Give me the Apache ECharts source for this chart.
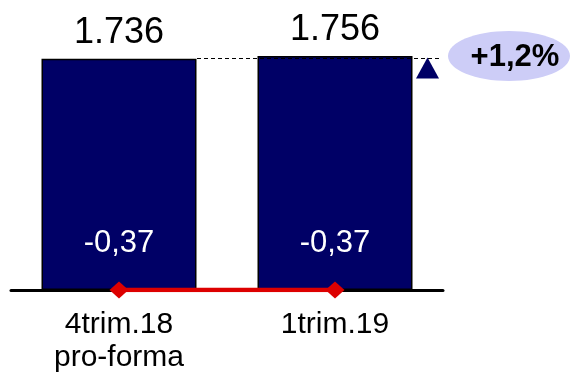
<!DOCTYPE html>
<html>
<head>
<meta charset="utf-8">
<script src="https://cdn.jsdelivr.net/npm/echarts@6/dist/echarts.min.js"></script>
<style>
  html, body { margin: 0; padding: 0; background: #fff; }
  #chart { width: 579px; height: 376px; }
</style>
</head>
<body>
<div id="chart"></div>
<script>
// Quarters compared
const categories = ['4trim.18\npro-forma', '1trim.19'];
// Main figure per quarter (bars)
const barValues = [1736, 1756];
// Secondary ratio per quarter (red line)
const lineValues = [-0.37, -0.37];

const FONT = "'Liberation Sans', Arial, sans-serif";
const NAVY = '#000066';
const RED = '#dd0000';

const fmtThousands = v => String(v).replace(/\B(?=(\d{3})+(?!\d))/g, '.');
const fmtDecimal = v => v.toFixed(2).replace('.', ',');

// Quarter-on-quarter change shown in the badge
const change = (barValues[1] / barValues[0] - 1) * 100;
const changeText = (change >= 0 ? '+' : '') + change.toFixed(1).replace('.', ',') + '%';

const chart = echarts.init(document.getElementById('chart'), null, { renderer: 'canvas' });

chart.setOption({
  animation: false,
  backgroundColor: '#fff',
  grid: { left: 11, right: 136, top: 0, bottom: 86 },
  xAxis: {
    type: 'category',
    data: categories,
    axisLine: { show: true, lineStyle: { color: '#000', width: 3 } },
    axisTick: { show: false },
    axisLabel: {
      color: '#000',
      fontFamily: FONT,
      fontSize: 30,
      lineHeight: 33,
      margin: 18
    }
  },
  yAxis: [
    { type: 'value', min: 0, max: 2176, show: false },
    { type: 'value', min: -0.37, max: 1, show: false }
  ],
  series: [
    {
      type: 'bar',
      data: barValues,
      barWidth: 155,
      itemStyle: { color: NAVY, borderColor: '#000', borderWidth: 1.5 },
      label: {
        show: true,
        position: 'top',
        distance: 8,
        color: '#000',
        fontFamily: FONT,
        fontSize: 36,
        formatter: p => fmtThousands(p.value)
      },
      markLine: {
        silent: true,
        symbol: ['none', 'none'],
        label: { show: false },
        lineStyle: { color: '#000', width: 1, type: [4, 3] },
        data: [[
          { xAxis: 0, yAxis: barValues[0], x: 197 },
          { xAxis: 1, yAxis: barValues[0], x: 441 }
        ]]
      },
      markPoint: {
        silent: true,
        symbol: 'triangle',
        symbolSize: [23, 21],
        symbolOffset: [0, 12],
        itemStyle: { color: NAVY },
        label: { show: false },
        data: [{ xAxis: 1, yAxis: barValues[1], x: 427.5 }]
      },
      z: 2
    },
    {
      type: 'line',
      yAxisIndex: 1,
      data: lineValues,
      symbol: 'diamond',
      symbolSize: [19, 17],
      showAllSymbol: true,
      lineStyle: { color: RED, width: 4.5 },
      itemStyle: { color: RED },
      label: {
        show: true,
        position: 'top',
        distance: 23,
        color: '#fff',
        fontFamily: FONT,
        fontSize: 31,
        formatter: p => fmtDecimal(p.value)
      },
      z: 5
    }
  ],
  graphic: [
    {
      type: 'group',
      left: 448,
      top: 31,
      children: [
        {
          type: 'ellipse',
          shape: { cx: 61, cy: 25, rx: 61, ry: 25 },
          style: { fill: '#cdcdf7' }
        },
        {
          type: 'text',
          x: 67,
          y: 26,
          style: {
            text: changeText,
            fill: '#000',
            font: 'bold 31px ' + FONT,
            textAlign: 'center',
            textVerticalAlign: 'middle'
          }
        }
      ]
    }
  ]
});
</script>
</body>
</html>
